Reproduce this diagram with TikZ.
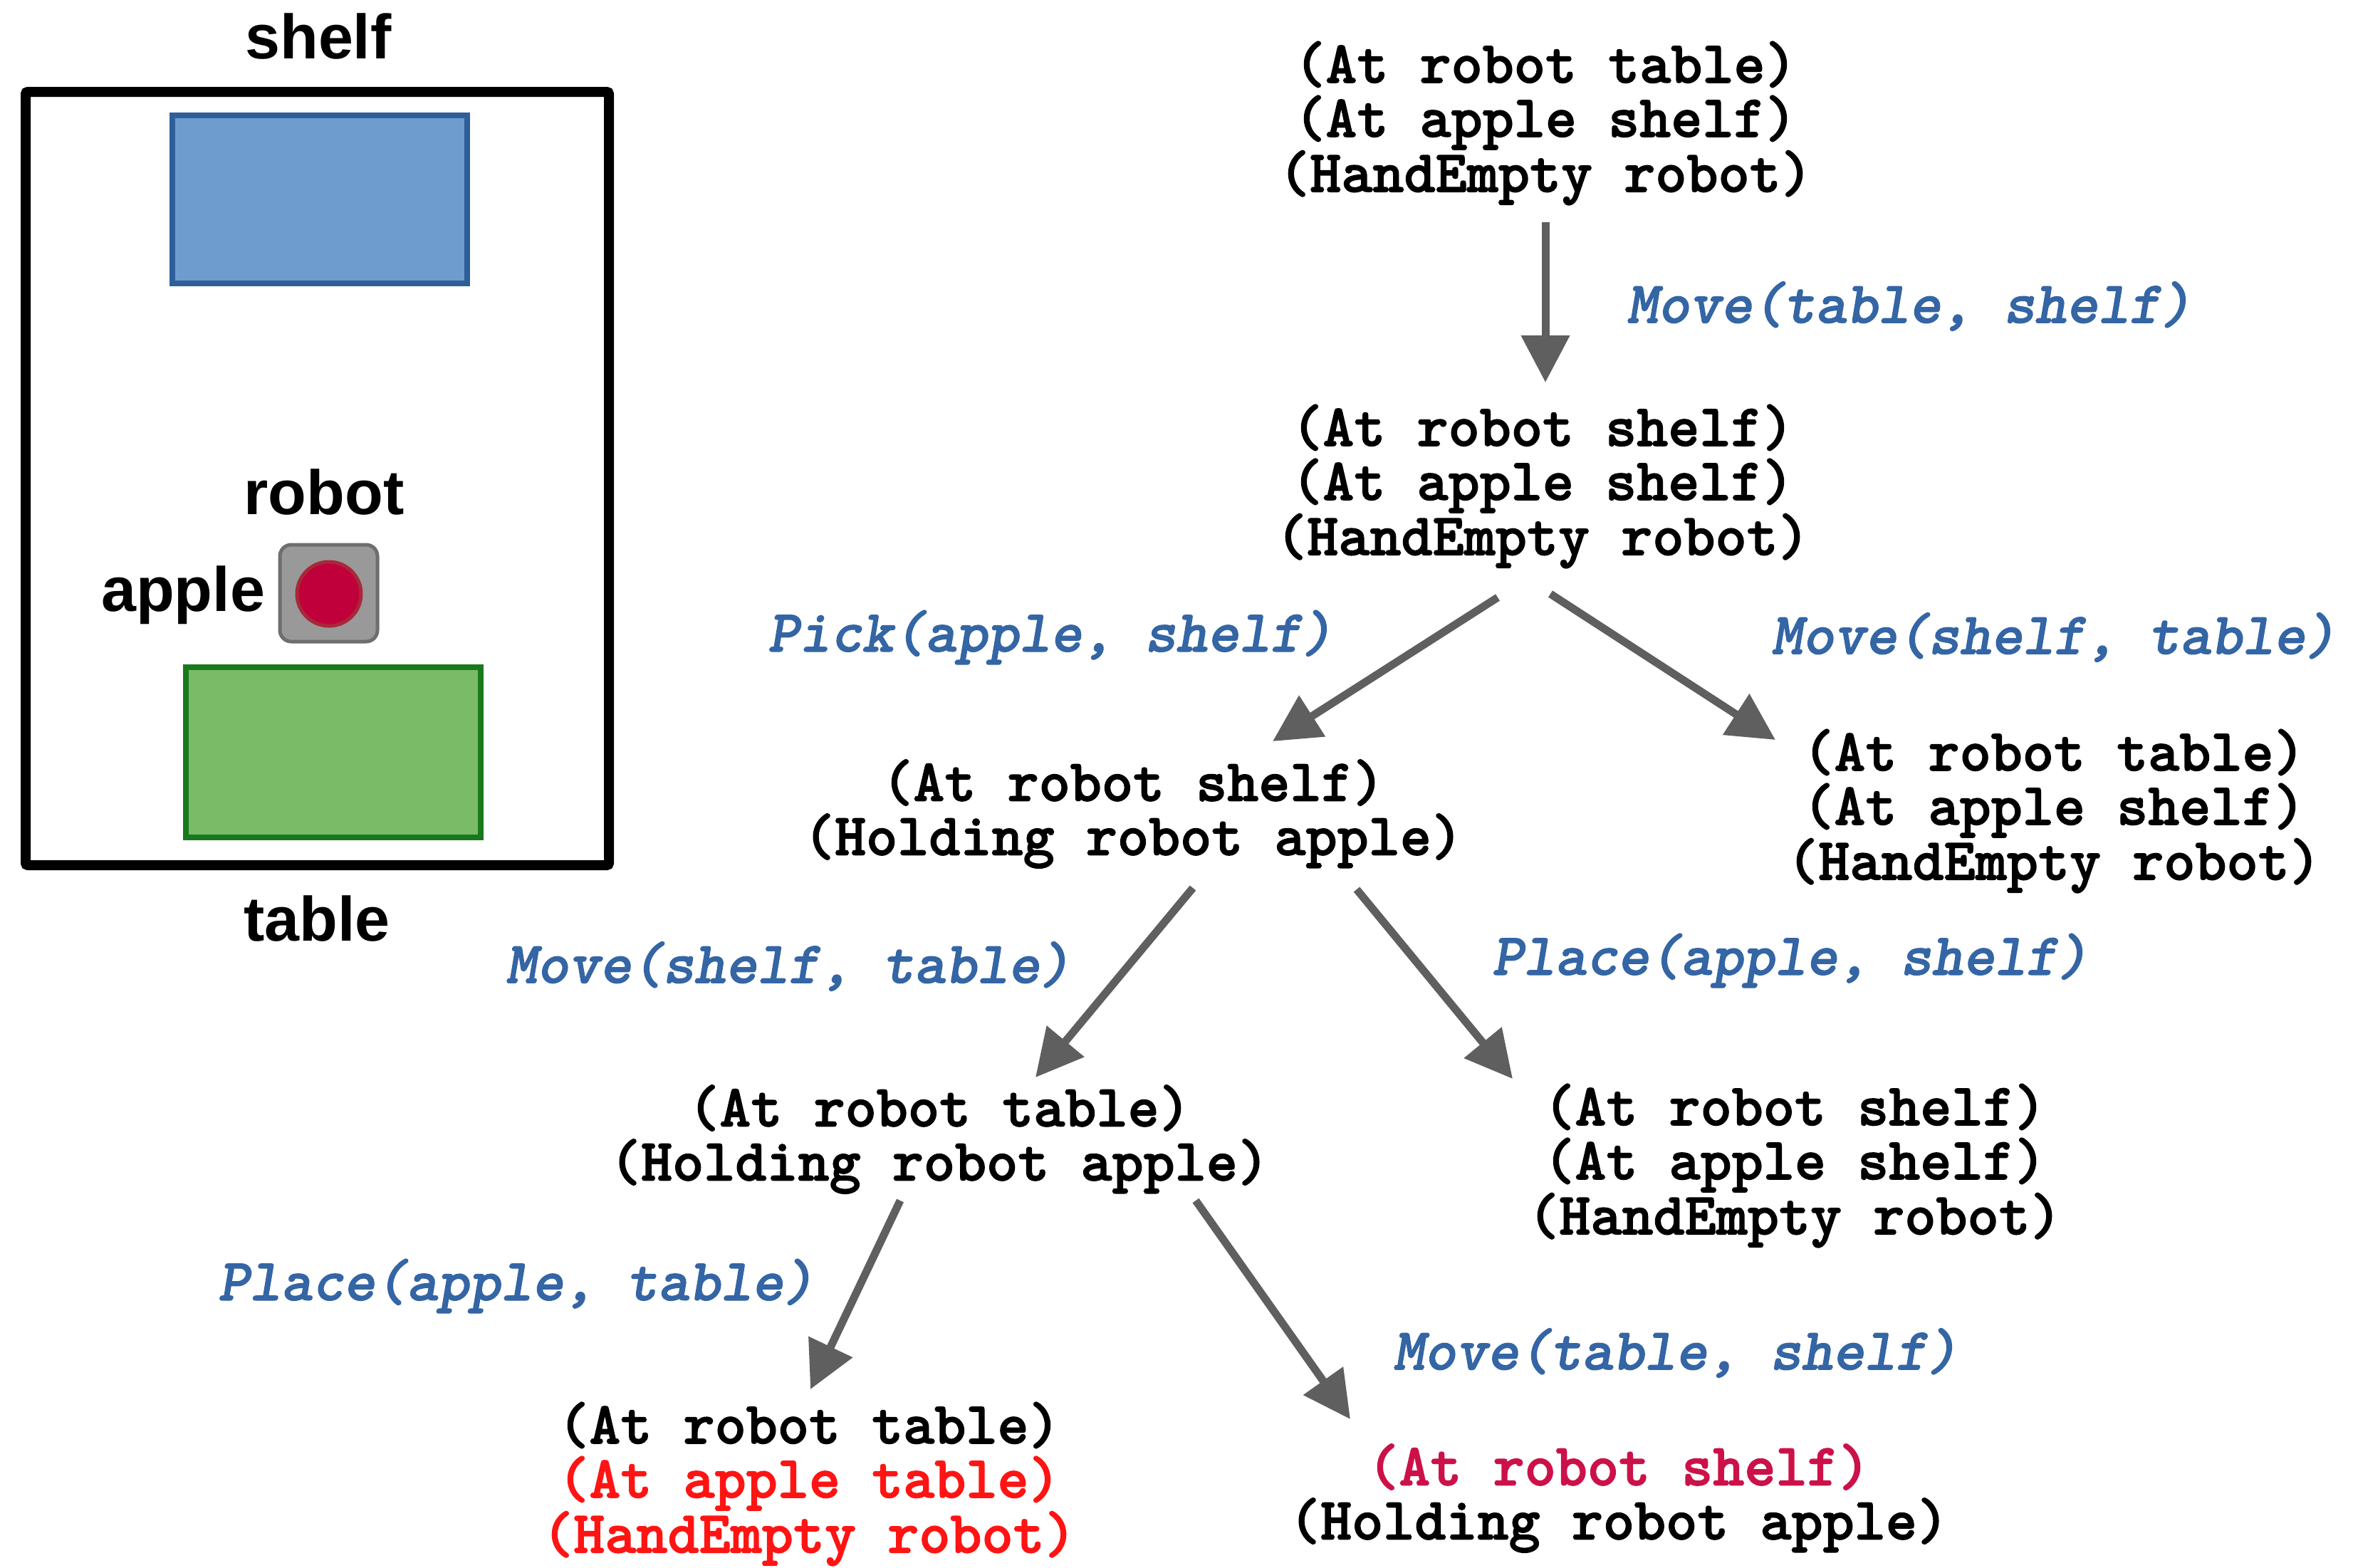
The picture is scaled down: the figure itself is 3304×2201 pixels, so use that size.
\documentclass[tikz,border=0pt]{standalone}
\usepackage{fontspec}
\setmainfont{Liberation Sans}
\newfontfamily\scenefont{Liberation Sans}
\newfontfamily\statefont{lmmonolt10-bold.otf}[FakeBold=1.6]
\newfontfamily\actfont{lmmonolt10-boldoblique.otf}[FakeBold=1.3]
\usetikzlibrary{arrows.meta}
\definecolor{actblue}{HTML}{3465A4}
\definecolor{arrowgray}{HTML}{5F5F5F}
\definecolor{goalred}{HTML}{FF1414}
\definecolor{goalcrimson}{HTML}{CC1149}
\definecolor{shelfblue}{HTML}{6E9CCF}
\definecolor{shelfedge}{HTML}{2F5F98}
\definecolor{tablegreen}{HTML}{7ABB68}
\definecolor{tableedge}{HTML}{18791C}
\definecolor{robotgray}{HTML}{999999}
\definecolor{robotedge}{HTML}{6E6E6E}
\definecolor{applered}{HTML}{C0003A}
\definecolor{appleedge}{HTML}{A8283A}
\tikzset{
  state/.style={align=center, inner sep=0pt,
    font=\statefont\fontsize{84}{76}\selectfont},
  act/.style={inner sep=0pt, text=actblue,
    font=\actfont\fontsize{84}{76}\selectfont},
  trans/.style={draw=arrowgray, line width=11pt,
    -{Triangle[length=66pt,width=66pt]}},
  scenelabel/.style={inner sep=0pt,
    font=\scenefont\bfseries\fontsize{88}{90}\selectfont},
}
\begin{document}
\begin{tikzpicture}[x=1pt,y=-1pt]
\useasboundingbox[fill=white] (0,0) rectangle (3304,2201);

% ---- world: shelf, table, robot holding the apple ----
\draw[line width=14pt, rounded corners=3pt] (36,129) rectangle (855,1215);
\draw[line width=8pt, draw=shelfedge, fill=shelfblue] (242,162) rectangle (656,398);
\draw[line width=8pt, draw=tableedge, fill=tablegreen] (261,937) rectangle (675,1176);
\draw[line width=5pt, draw=robotedge, fill=robotgray, rounded corners=16pt] (393,765) rectangle (530,901);
\draw[line width=5pt, draw=appleedge, fill=applered] (462,834) circle (45);
\node[scenelabel] (lshelf) at (447,51) {shelf};
\node[scenelabel] (lrobot) at (455,691) {robot};
\node[scenelabel] (lapple) at (257,836) {apple};
\node[scenelabel] (ltable) at (445,1290) {table};

% ---- search tree of states ----
\node[state] (s0) at (2170,173) {(At robot table)\\(At apple shelf)\\(HandEmpty robot)};
\node[state] (s1) at (2166,683) {(At robot shelf)\\(At apple shelf)\\(HandEmpty robot)};
\node[state] (s2) at (1591,1143) {(At robot shelf)\\(Holding robot apple)};
\node[state] (s3) at (2884,1139) {(At robot table)\\(At apple shelf)\\(HandEmpty robot)};
\node[state] (s4) at (1319,1600) {(At robot table)\\(Holding robot apple)};
\node[state] (s5) at (2520,1637) {(At robot shelf)\\(At apple shelf)\\(HandEmpty robot)};
\node[state] (s6) at (1136,2084) {(At robot table)\\\textcolor{goalred}{(At apple table)}\\\textcolor{goalred}{(HandEmpty robot)}};
\node[state] (s7) at (2273,2104) {\textcolor{goalcrimson}{(At robot shelf)}\\(Holding robot apple)};

% ---- actions ----
\node[act] (m01) at (2681,430) {Move(table, shelf)};
\node[act] (p12) at (1475,895) {Pick(apple, shelf)};
\node[act] (m13) at (2884,895) {Move(shelf, table)};
\node[act] (m24) at (1107,1357) {Move(shelf, table)};
\node[act] (p25) at (2514,1349) {Place(apple, shelf)};
\node[act] (p46) at (725,1806) {Place(apple, table)};
\node[act] (m47) at (2353,1900) {Move(table, shelf)};

% ---- arrow end points ----
\coordinate (e01a) at (2170,312);  \coordinate (e01b) at (2170,537);
\coordinate (e12a) at (2103,839);  \coordinate (e12b) at (1787,1041);
\coordinate (e13a) at (2177,834);  \coordinate (e13b) at (2493,1039);
\coordinate (e24a) at (1675,1247); \coordinate (e24b) at (1454,1513);
\coordinate (e25a) at (1905,1249); \coordinate (e25b) at (2124,1515);
\coordinate (e46a) at (1264,1686); \coordinate (e46b) at (1138,1951);
\coordinate (e47a) at (1679,1686); \coordinate (e47b) at (1896,1993);

\draw[trans] (e01a) -- (e01b);
\draw[trans] (e12a) -- (e12b);
\draw[trans] (e13a) -- (e13b);
\draw[trans] (e24a) -- (e24b);
\draw[trans] (e25a) -- (e25b);
\draw[trans] (e46a) -- (e46b);
\draw[trans] (e47a) -- (e47b);
\end{tikzpicture}
\end{document}
